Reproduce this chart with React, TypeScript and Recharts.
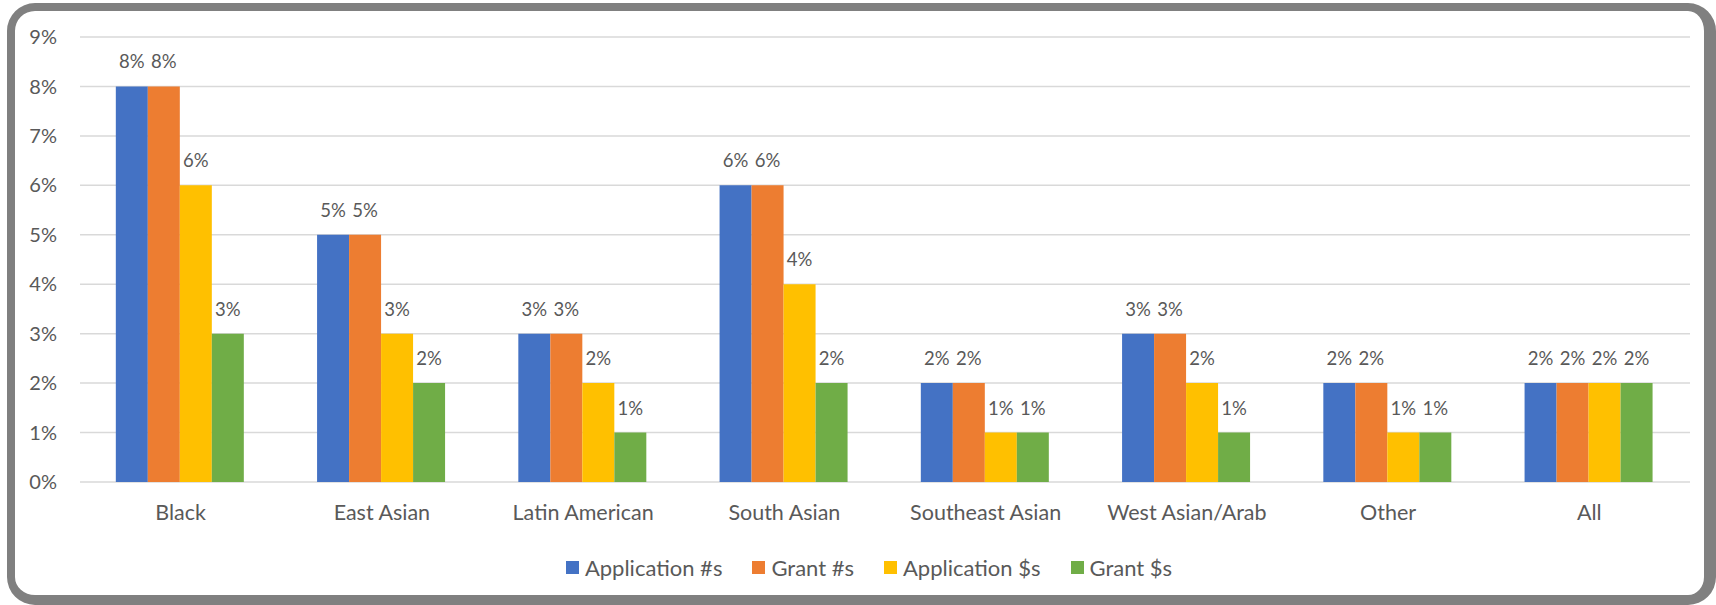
import { BarChart, Bar, XAxis, YAxis, CartesianGrid, Legend, LabelList } from 'recharts';

const categories = ['Black', 'East Asian', 'Latin American', 'South Asian', 'Southeast Asian', 'West Asian/Arab', 'Other', 'All'];
const applicationCounts = [8, 5, 3, 6, 2, 3, 2, 2];
const grantCounts = [8, 5, 3, 6, 2, 3, 2, 2];
const applicationDollars = [6, 3, 2, 4, 1, 2, 1, 2];
const grantDollars = [3, 2, 1, 2, 1, 1, 1, 2];
const yTicks = [0, 1, 2, 3, 4, 5, 6, 7, 8, 9];

const series = [
  { key: 'appNum', name: 'Application #s', color: '#4472C4' },
  { key: 'grantNum', name: 'Grant #s', color: '#ED7D31' },
  { key: 'appDol', name: 'Application $s', color: '#FFC000' },
  { key: 'grantDol', name: 'Grant $s', color: '#70AD47' },
];

const data = categories.map((name, i) => ({
  name,
  appNum: applicationCounts[i],
  grantNum: grantCounts[i],
  appDol: applicationDollars[i],
  grantDol: grantDollars[i],
}));

const FONT = 'Lato, "Open Sans", sans-serif';
const TEXT = '#595959';

// keep the legend in series order (recharts sorts it by name otherwise)
function LegendBox() {
  return (
    <div style={{ height: 30, display: 'flex', justifyContent: 'center', alignItems: 'center', gap: 30, fontFamily: FONT, fontSize: 22, color: TEXT }}>
      {series.map((s) => (
        <div key={s.key} style={{ display: 'flex', alignItems: 'center' }}>
          <span style={{ width: 13, height: 13, background: s.color, marginRight: 6, display: 'inline-block' }} />
          <span>{s.name}</span>
        </div>
      ))}
    </div>
  );
}

export default function App() {
  return (
    <div style={{ position: 'absolute', left: 0, top: 0, width: 1716, height: 605, background: '#fff' }}>
      <div
        style={{
          position: 'absolute',
          left: 7,
          top: 3,
          width: 1709,
          height: 602,
          boxSizing: 'border-box',
          borderStyle: 'solid',
          borderColor: '#808080',
          borderWidth: '8px 12px 10px 8px',
          borderRadius: 28,
        }}
      />
      <div style={{ position: 'absolute', left: 0, top: 0 }}>
        <BarChart
          width={1716}
          height={605}
          data={data}
          margin={{ top: 37, right: 26, bottom: 43, left: 0 }}
          barCategoryGap="17.8%"
          barGap={0}
        >
          <CartesianGrid vertical={false} stroke="#d9d9d9" strokeWidth={1.5} />
          <XAxis
            dataKey="name"
            height={50}
            tickLine={false}
            axisLine={false}
            tickSize={0}
            tickMargin={23}
            interval={0}
            tick={{ fill: TEXT, fontSize: 21.5, fontFamily: FONT }}
          />
          <YAxis
            width={80}
            domain={[0, 9]}
            ticks={yTicks}
            tickFormatter={(v: number) => `${v}%`}
            tickLine={false}
            axisLine={false}
            tickSize={0}
            tickMargin={23}
            tick={{ fill: TEXT, fontSize: 20, fontFamily: FONT }}
          />
          <Legend
            verticalAlign="bottom"
            content={<LegendBox />}
            wrapperStyle={{ left: 60, width: 1618, bottom: 23 }}
          />
          {series.map((s) => (
            <Bar key={s.key} dataKey={s.key} name={s.name} fill={s.color} isAnimationActive={false}>
              <LabelList
                dataKey={s.key}
                position="top"
                offset={18}
                formatter={(v: any) => `${v}%`}
                style={{ fill: TEXT, fontSize: 18.5, fontFamily: FONT }}
              />
            </Bar>
          ))}
        </BarChart>
      </div>
    </div>
  );
}
